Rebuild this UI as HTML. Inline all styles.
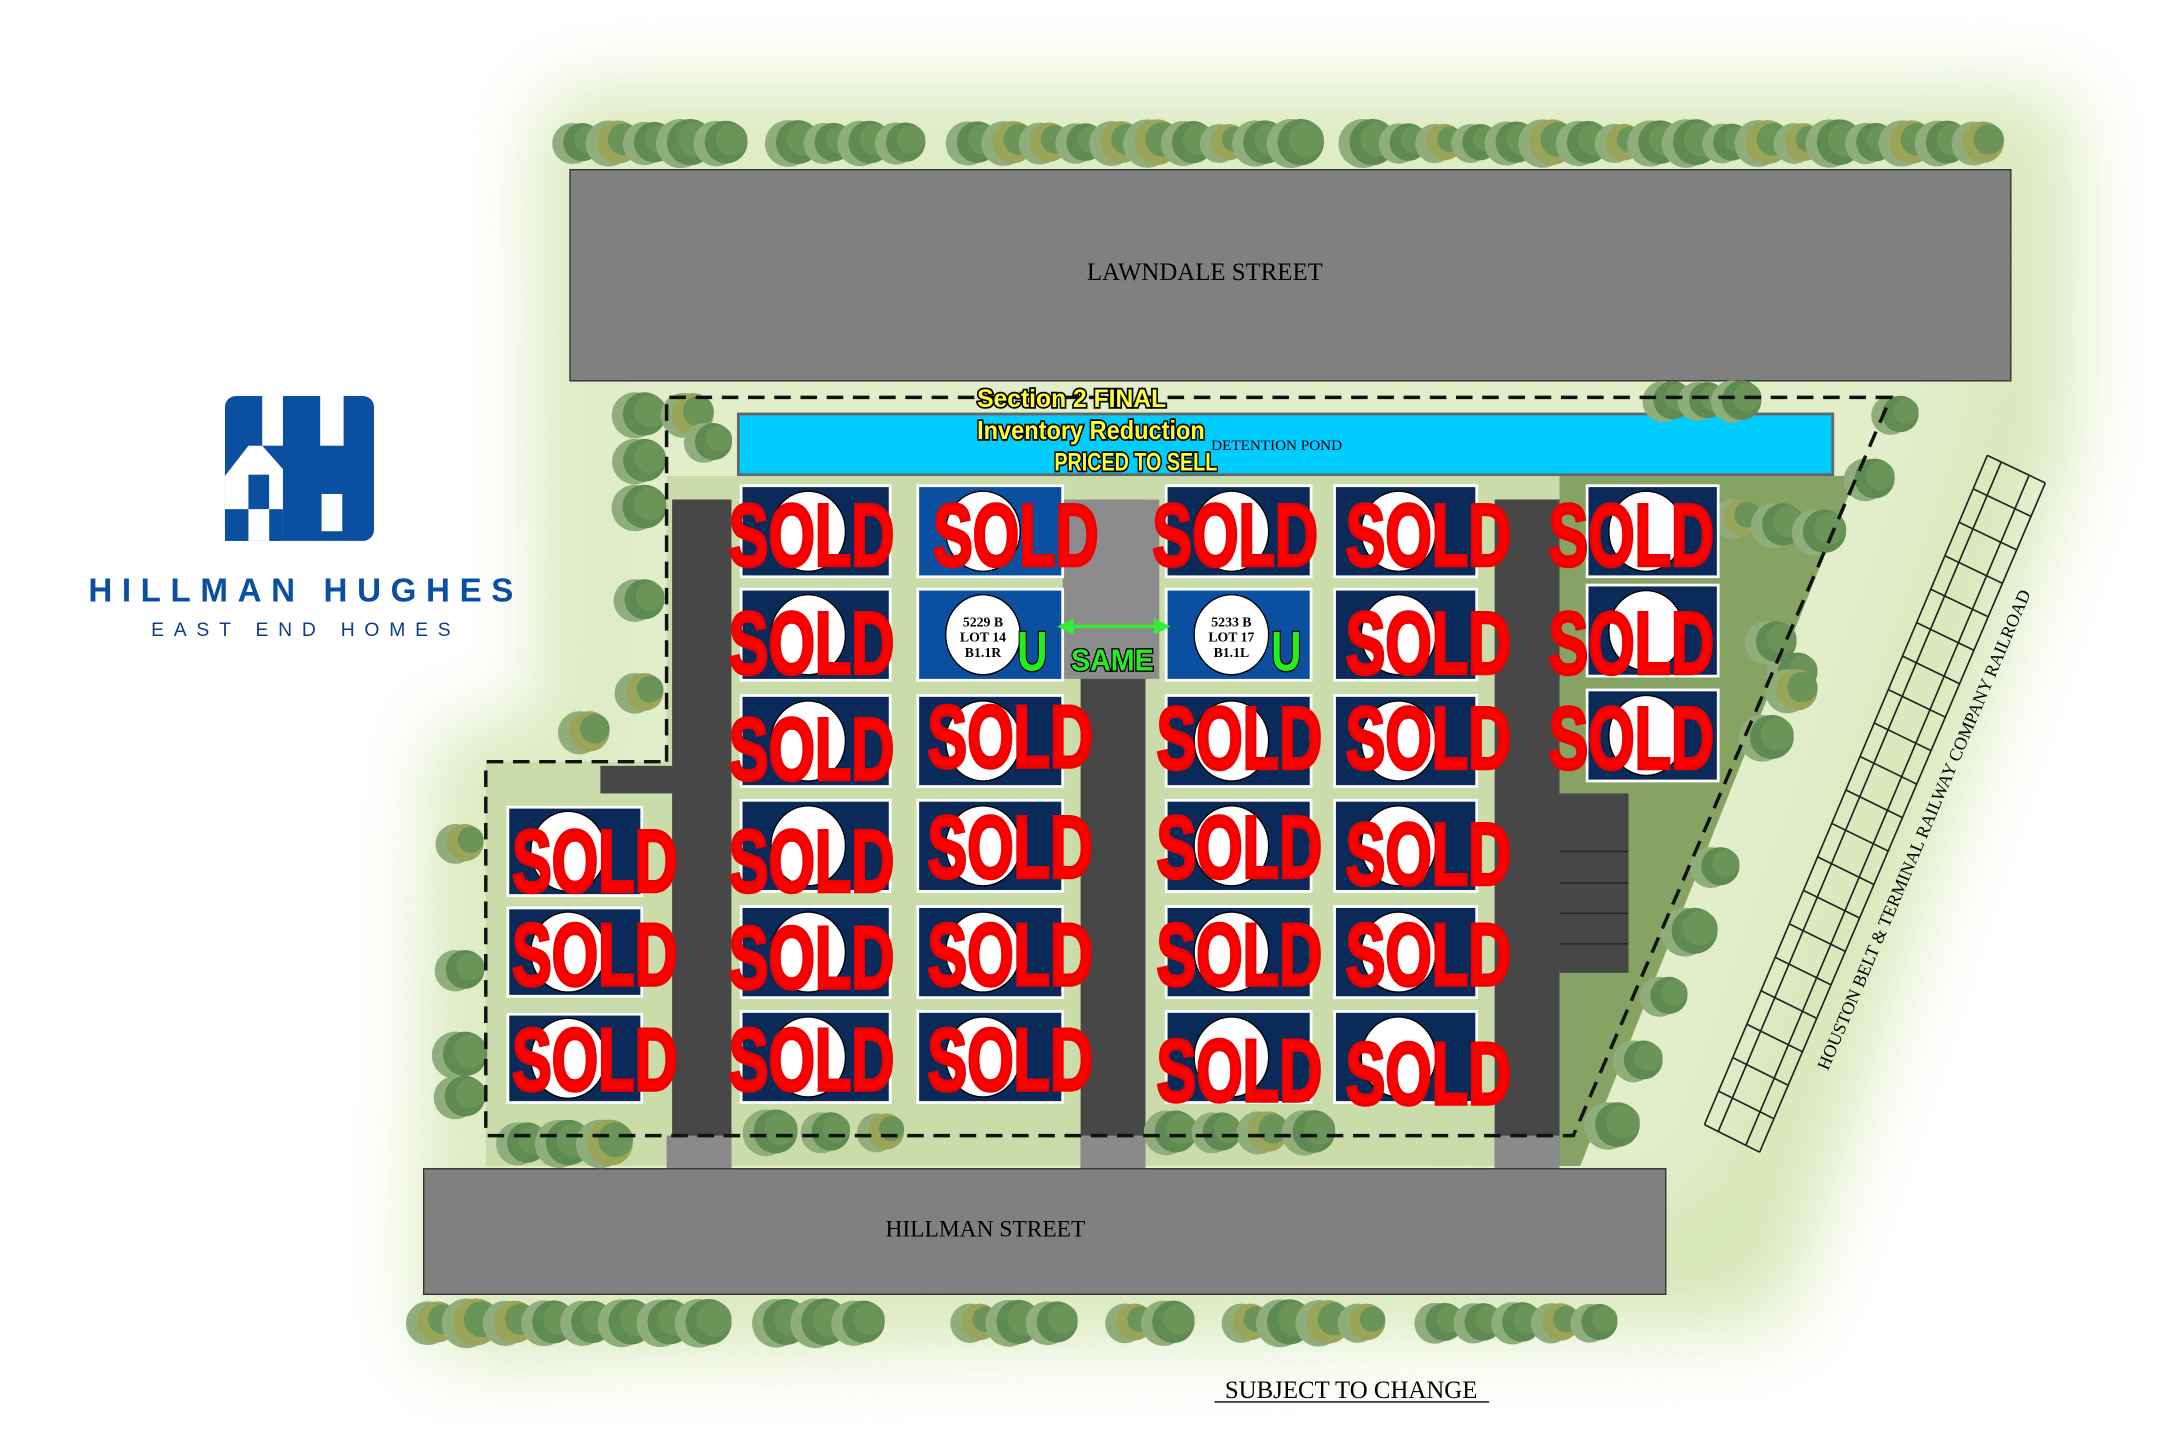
<!DOCTYPE html>
<html><head><meta charset="utf-8"><style>
html,body{margin:0;padding:0;background:#fff;}
svg{display:block;}
.sold{font-family:"Liberation Sans",sans-serif;font-weight:bold;fill:#ff0000;stroke:#ee0000;stroke-width:2.5;}
.y{font-family:"Liberation Sans",sans-serif;font-weight:bold;fill:#ffff33;stroke:#000;stroke-width:2.5;paint-order:stroke;}
.lot{stroke:#fff;stroke-width:2;}
.ct{font-family:"Liberation Serif",serif;font-weight:bold;font-size:10px;text-anchor:middle;fill:#000;}
</style></head><body>
<svg id="s" width="2164" height="1453" viewBox="0 0 1568 1053" preserveAspectRatio="none" xmlns="http://www.w3.org/2000/svg">
<defs>
<filter id="blur" x="-20%" y="-20%" width="140%" height="140%"><feGaussianBlur stdDeviation="30"/></filter>
</defs>
<rect width="1568" height="1053" fill="#fff"/>
<!-- glow -->
<polygon points="360,70 1500,70 1500,320 1290,960 310,980 320,530 400,530 400,70" fill="#d6e6b4" filter="url(#blur)"/>
<polygon points="400,95 1450,95 1440,300 1240,880 330,950 340,545 420,545" fill="#e2edca" filter="url(#blur)"/>
<!-- streets -->
<rect x="413" y="123" width="1044" height="153" fill="#808080" stroke="#333" stroke-width="1"/>
<text x="873" y="203" font-family="Liberation Serif,serif" font-size="18" text-anchor="middle">LAWNDALE STREET</text>
<!-- lawn areas -->
<polygon points="483,345 1340,345 1140,845 352,845 352,552 483,552" fill="#cbdcab"/>
<polygon points="1130,345 1345,345 1145,845 1130,845" fill="#86a364"/>
<!-- roads -->
<rect x="487" y="362" width="43" height="485" fill="#474747"/>
<rect x="435" y="555" width="95" height="20" fill="#474747"/>
<rect x="783" y="362" width="47" height="485" fill="#474747"/>
<rect x="770" y="362" width="70" height="130" fill="#8c8c8c"/>
<rect x="1083" y="362" width="47" height="485" fill="#474747"/>
<rect x="1130" y="575" width="50" height="130" fill="#474747"/>
<g stroke="#222" stroke-width="1"><line x1="1130" y1="617" x2="1180" y2="617"/><line x1="1130" y1="640" x2="1180" y2="640"/><line x1="1130" y1="662" x2="1180" y2="662"/><line x1="1130" y1="684" x2="1180" y2="684"/></g>
<rect x="483" y="823" width="47" height="30" fill="#8a8a8a"/>
<rect x="783" y="823" width="47" height="30" fill="#8a8a8a"/>
<rect x="1083" y="823" width="47" height="30" fill="#8a8a8a"/>
<rect x="307" y="847" width="900" height="91" fill="#808080" stroke="#333" stroke-width="1"/>
<text x="714" y="896" font-family="Liberation Serif,serif" font-size="17" text-anchor="middle">HILLMAN STREET</text>
<!-- pond -->
<rect x="535" y="300" width="793" height="44" fill="#00ccff" stroke="#666" stroke-width="2"/>
<text x="925" y="326" font-family="Liberation Serif,serif" font-size="11" text-anchor="middle">DETENTION POND</text>
<g id="trees"></g>
<g id="lots"></g>
<!-- dashed boundary -->
<polyline points="483,552 483,288 1370,288 1140,823 352,823 352,552 483,552" fill="none" stroke="#111" stroke-width="2.5" stroke-dasharray="12,7"/>
<!-- railroad -->
<g stroke="#222" stroke-width="1.2" fill="none">
<line x1="1235" y1="815" x2="1440" y2="330"/>
<line x1="1245" y1="820" x2="1450" y2="335"/>
<line x1="1265" y1="830" x2="1470" y2="345"/>
<line x1="1275" y1="835" x2="1482" y2="350"/>
<g id="ties"></g>
</g>
<text transform="translate(1398,603) rotate(-67)" font-family="Liberation Serif,serif" font-size="13" text-anchor="middle">HOUSTON BELT &amp; TERMINAL RAILWAY COMPANY RAILROAD</text>
<!-- section text -->
<text class="y" x="708" y="295" font-size="18" textLength="137" lengthAdjust="spacingAndGlyphs">Section 2   FINAL</text>
<text class="y" x="708" y="318" font-size="19" textLength="165" lengthAdjust="spacingAndGlyphs">Inventory Reduction</text>
<text class="y" x="764" y="341" font-size="18" textLength="118" lengthAdjust="spacingAndGlyphs">PRICED TO SELL</text>
<!-- same arrow -->
<g>
<line x1="772" y1="454" x2="842" y2="454" stroke="#33ee33" stroke-width="2.5"/>
<polygon points="766,454 778,448 778,460" fill="#33ee33"/>
<polygon points="848,454 836,448 836,460" fill="#33ee33"/>
<text x="806" y="486" font-family="Liberation Sans,sans-serif" font-weight="bold" font-size="22" fill="#22ee22" stroke="#000" stroke-width="2" paint-order="stroke" text-anchor="middle" textLength="60" lengthAdjust="spacingAndGlyphs">SAME</text>
</g>
<g id="sold"></g>
<!-- logo -->
<g>
<rect x="163" y="287" width="108" height="105" rx="8" fill="#0b4fa0"/>
<rect x="190" y="287" width="15" height="36" fill="#fff"/>
<rect x="232" y="287" width="17" height="36" fill="#fff"/>
<polygon points="163,345 180,323 190,323 205,340 205,392 163,392" fill="#fff"/>
<rect x="180" y="344" width="15" height="25" fill="#0b4fa0"/>
<rect x="163" y="369" width="17" height="23" fill="#0b4fa0"/>
<rect x="195" y="369" width="10" height="23" fill="#0b4fa0"/>
<rect x="190" y="369" width="5" height="23" fill="#fff"/>
<rect x="233" y="358" width="15" height="27" fill="#fff"/>
</g>
<text x="218" y="436" font-family="Liberation Sans,sans-serif" font-weight="bold" font-size="24" fill="#0b4fa0" text-anchor="middle" textLength="308" lengthAdjust="spacing">HILLMAN HUGHES</text>
<text x="218" y="461" font-family="Liberation Sans,sans-serif" font-size="14" fill="#0b3f80" text-anchor="middle" textLength="217" lengthAdjust="spacing">EAST END HOMES</text>
<text x="979" y="1013" font-family="Liberation Serif,serif" font-size="18" text-anchor="middle">SUBJECT TO CHANGE</text>
<line x1="880" y1="1016" x2="1079" y2="1016" stroke="#000" stroke-width="1"/>
</svg>
<script>
var NS="http://www.w3.org/2000/svg";
function el(p,t,a){var e=document.createElementNS(NS,t);for(var k in a)e.setAttribute(k,a[k]);p.appendChild(e);return e;}
var T=document.getElementById("trees");
var seed=3;function rnd(){seed=(seed*9301+49297)%233280;return seed/233280;}
function tree(x,y){var r=14+rnd()*4;var c=rnd()<0.3?"#9aa55a":"#5f8a52";
el(T,"circle",{cx:x-5,cy:y+1,r:r,fill:"#8fae7c"});el(T,"circle",{cx:x+2,cy:y,r:r-1,fill:c});el(T,"circle",{cx:x+6,cy:y-2,r:r-5,fill:"#6b9458"});}
function row(x1,y1,x2,y2,n){for(var i=0;i<n;i++){var t=i/(n-1);if(rnd()<0.15)continue;tree(x1+(x2-x1)*t,y1+(y2-y1)*t);}}
row(420,103,1435,103,40);
row(465,300,465,535,8);
row(350,530,425,530,3);
row(335,580,335,825,9);
row(315,958,1185,958,32);
row(1375,300,1170,815,12);
row(1260,375,1320,385,3);
row(1270,430,1300,500,3);
row(1210,290,1260,290,3);
row(500,300,515,320,2);
row(380,828,470,828,4);row(560,820,640,820,3);row(850,820,950,820,4);
var L=document.getElementById("lots");
function lot(x,y,w,h,blue,label){el(L,"rect",{x:x,y:y,width:w,height:h,fill:blue?"#0b4fa0":"#0a2a5a",class:"lot"});
el(L,"ellipse",{cx:x+w*0.45,cy:y+h/2,rx:27,ry:29,fill:"#fff",stroke:"#000"});
if(label){label.forEach(function(s,i){var t=el(L,"text",{x:x+w*0.45,y:y+h/2-6+i*11,class:"ct"});t.textContent=s;});}}
var rows=[352,427,504,580,657,733],H=66;
[[368,585],[368,658],[368,735]].forEach(function(p){lot(p[0],p[1],97,64,0);});
rows.forEach(function(y,i){lot(537,y,108,H,0);lot(967,y,103,H,0);
 if(i!=1){lot(665,y,105,H,i==0);lot(845,y,105,H,0);}});
lot(665,427,105,66,1,["5229 B","LOT 14","B1.1R"]);
lot(845,427,105,66,1,["5233 B","LOT 17","B1.1L"]);
[352,424,500].forEach(function(y){lot(1150,y,95,66,0);});
var S=document.getElementById("sold");
function u(x,y){var t=el(S,"text",{x:x,y:y,"font-family":"Liberation Sans,sans-serif","font-weight":"bold","font-size":"40",fill:"#22ee22",stroke:"#000","stroke-width":"2","paint-order":"stroke",textLength:"22",lengthAdjust:"spacingAndGlyphs"});t.textContent="U";}
u(737,486);u(921,486);
var sp=[[528,410],[676,410],[835,410],[975,410],[1122,410],[528,488],[975,488],[1122,488],
[528,565],[672,556],[838,557],[975,557],[1122,557],[371,646],[528,646],[672,636],[838,636],[975,641],
[371,714],[528,716],[672,714],[838,714],[975,714],[371,790],[528,790],[672,790],[838,798],[975,800]];
sp.forEach(function(p){var t=el(S,"text",{x:p[0],y:p[1],class:"sold","font-size":"64",textLength:"120",lengthAdjust:"spacingAndGlyphs"});t.textContent="SOLD";});
var G=document.getElementById("ties");
for(var i=0;i<=20;i++){var t=i/20;var x1=1235+205*t,y1=815-485*t,x2=1275+207*t,y2=835-485*t;el(G,"line",{x1:x1,y1:y1,x2:x2,y2:y2});}
</script>
</body></html>
